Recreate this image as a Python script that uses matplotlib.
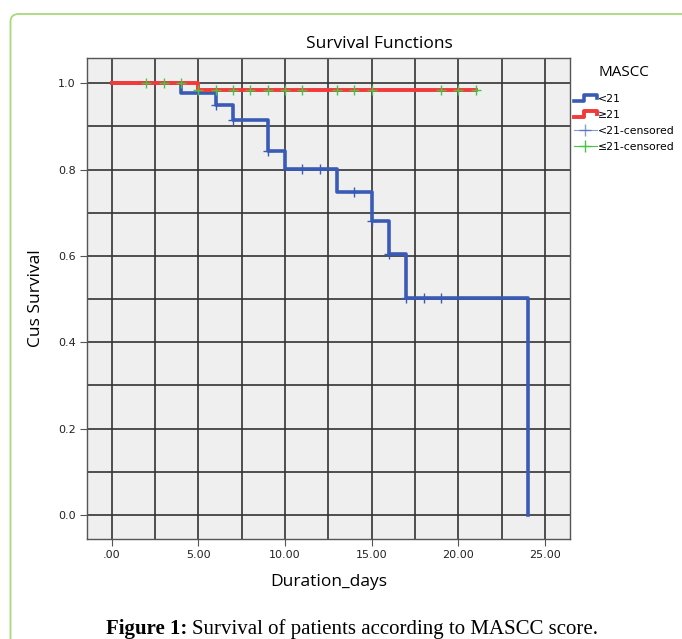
import numpy as np
import matplotlib.pyplot as plt
from matplotlib.lines import Line2D
from matplotlib.legend_handler import HandlerBase
from matplotlib.patches import FancyBboxPatch

# Kaplan-Meier curves
times_lt21 = [0, 4, 6, 7, 9, 10, 13, 15, 16, 17, 24]
surv_lt21 = [1.0, 0.977, 0.950, 0.915, 0.843, 0.801, 0.749, 0.681, 0.604, 0.502, 0.0]
censor_lt21 = [6, 7, 9, 11, 12, 14, 15, 16, 17, 18, 19]

times_ge21 = [0, 5, 21]
surv_ge21 = [1.0, 0.984, 0.984]
censor_ge21 = [2, 3, 4, 5, 6, 7, 8, 9, 10, 11, 13, 14, 15, 19, 20, 21]

xticks = [0, 5, 10, 15, 20, 25]
xticklabels = ['.00', '5.00', '10.00', '15.00', '20.00', '25.00']
yticks = [0.0, 0.2, 0.4, 0.6, 0.8, 1.0]

blue = '#3a5bb5'
red = '#f23a3a'
green = '#45c445'


def step_value(times, surv, t):
    i = np.searchsorted(times, t, side='right') - 1
    return surv[i]


class StepHandler(HandlerBase):
    def create_artists(self, legend, orig_handle, xdescent, ydescent,
                       width, height, fontsize, trans):
        x0, x1 = -xdescent, -xdescent + width
        lo, hi = -ydescent + 0.1 * height, -ydescent + 0.9 * height
        xs = [x0, x0 + 0.45 * width, x0 + 0.45 * width, x1, x1]
        ys = [lo, lo, hi, hi, 0.5 * (lo + hi)]
        ln = Line2D(xs, ys, color=orig_handle.get_color(),
                    lw=orig_handle.get_linewidth(), transform=trans)
        return [ln]


fig = plt.figure(figsize=(6.82, 6.39), dpi=100)
ax = fig.add_axes([0.1276, 0.1565, 0.7082, 0.7527])
ax.set_facecolor('#efefef')

# green frame of the figure page
frame = FancyBboxPatch((10.5 / 682, -0.2), 1.0, 1.2 - 14 / 639,
                       boxstyle='round,pad=0,rounding_size=0.012',
                       transform=fig.transFigure, fill=False,
                       edgecolor='#a9d97a', lw=1.3, clip_on=False)
fig.patches.append(frame)

ax.set_xlim(-1.43, 26.45)
ax.set_ylim(-0.0556, 1.0586)

for gx in np.arange(0, 26, 2.5):
    ax.axvline(gx, color='#333333', lw=1.2, zorder=1)
for gy in np.arange(0, 1.05, 0.1):
    ax.axhline(gy, color='#333333', lw=1.2, zorder=1)

ax.step(times_lt21, surv_lt21, where='post', color=blue, lw=2.6, zorder=3)
ax.step(times_ge21, surv_ge21, where='post', color=red, lw=2.8, zorder=4)

cy_lt = [step_value(times_lt21, surv_lt21, t) for t in censor_lt21]
cy_ge = [step_value(times_ge21, surv_ge21, t) for t in censor_ge21]
ax.plot(censor_lt21, cy_lt, ls='none', marker='+', ms=7, mew=1.0,
        color=blue, zorder=5)
ax.plot(censor_ge21, cy_ge, ls='none', marker='+', ms=7, mew=1.0,
        color=green, zorder=6)

ax.set_xticks(xticks)
ax.set_xticklabels(xticklabels)
ax.set_yticks(yticks)
ax.set_yticklabels(['%.1f' % v for v in yticks])
ax.tick_params(direction='out', length=5, width=0.8, color='#555555',
               labelsize=8, labelcolor='#222222', pad=3)
for sp in ax.spines.values():
    sp.set_color('#555555')
    sp.set_linewidth(1.0)

fig.text(379 / 682, 1 - 44 / 639, 'Survival Functions', fontsize=12.5,
         family='Open Sans', ha='center', va='center')
ax.set_xlabel('Duration_days', fontsize=12.5, family='Open Sans', labelpad=10)
ax.set_ylabel('Cus Survival', fontsize=12.5, family='Open Sans', labelpad=10)

handles = [Line2D([], [], color=blue, lw=2.6),
           Line2D([], [], color=red, lw=2.8),
           Line2D([], [], color=blue, lw=0.8, marker='+', ms=8, alpha=0.6),
           Line2D([], [], color=green, lw=0.8, marker='+', ms=8)]
labels = ['<21', '≥21', '<21-censored', '≤21-censored']
leg = fig.legend(handles, labels, title='MASCC', loc='upper left',
                 bbox_to_anchor=(0.835, 0.905), frameon=False,
                 fontsize=7.8, title_fontsize=11, handlelength=2.1,
                 handletextpad=0.1, labelspacing=0.55, borderaxespad=0,
                 handler_map={handles[0]: StepHandler(),
                              handles[1]: StepHandler()})
leg.get_title().set_family('Open Sans')
leg._legend_box.sep = 10

# caption, bold label followed by plain text, centred on the page
cap_y = 1 - 634 / 639
t1 = fig.text(0, cap_y, 'Figure 1:', fontsize=15, family='Liberation Serif',
              weight='bold', ha='left', va='baseline')
t2 = fig.text(0, cap_y, 'Survival of patients according to MASCC score.',
              fontsize=15, family='Liberation Serif', ha='left', va='baseline')
fig.canvas.draw()
W = fig.bbox.width
w1 = t1.get_window_extent().width
w2 = t2.get_window_extent().width
gap = 5
x0 = 352 - (w1 + gap + w2) / 2
t1.set_x(x0 / W)
t2.set_x((x0 + w1 + gap) / W)

fig.savefig('out.png', dpi=100)
